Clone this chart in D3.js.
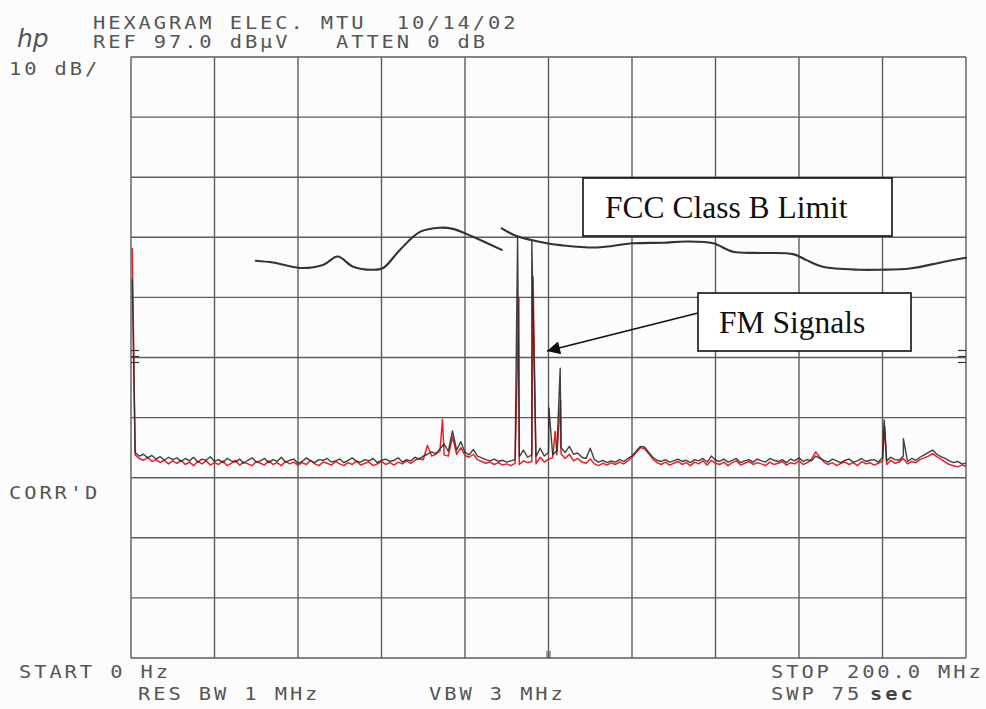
<!DOCTYPE html>
<html><head><meta charset="utf-8">
<script src="https://cdn.jsdelivr.net/npm/d3@7"></script>
<style>html,body{margin:0;padding:0;background:#fcfcfc;} svg{display:block;}</style>
</head><body><svg id="c" width="986" height="709"></svg>
<script>
// ---- analyzer settings ----
const refLevelDbuV = 97.0;
const dbPerDiv = 10;
const startMHz = 0, stopMHz = 200;
const xDivisions = d3.range(0, 201, 20);      // 20 MHz / div
const yDivisions = d3.range(-3, 98, 10);      // 10 dB / div from REF

// ---- trace data (dBµV), one value per MHz starting at 1 MHz ----
const noiseStartMHz = 1;
const blackNoise = [
 31.2,30.6,30.9,30.3,30.7,30.1,30.5,29.9,30.4,30.0,
 30.3,29.7,30.2,29.8,30.4,29.6,30.1,29.9,30.5,29.7,
 30.0,29.5,30.2,29.8,29.6,30.1,29.4,29.9,30.3,29.6,
 29.8,30.2,29.5,30.0,29.7,30.4,29.6,29.9,30.1,29.4,
 29.7,30.3,29.8,29.5,30.0,29.9,30.2,29.6,29.8,30.1,
 29.5,29.9,30.3,29.7,29.6,30.0,29.8,30.2,29.5,29.9,
 30.1,29.7,29.9,30.3,29.6,30.0,29.8,30.4,30.1,30.6,
 30.9,31.3,31.0,31.8,32.6,31.4,34.8,31.6,33.0,31.2,
 30.8,31.7,30.6,30.3,30.0,29.8,30.1,29.7,29.9,29.6,
 29.8,30.0,30.5,31.6,30.4,30.8,30.5,31.9,30.6,31.2,
 30.8,31.5,32.0,31.2,32.2,30.9,31.1,30.4,30.2,31.9,
 30.0,29.6,29.9,29.5,29.8,29.6,30.0,29.7,30.2,30.6,
 31.4,32.2,32.1,31.2,30.4,29.9,29.7,30.0,29.6,29.8,
 30.1,29.7,29.9,29.5,30.0,29.8,30.2,29.6,30.6,29.9,
 29.7,30.1,29.6,29.9,30.2,29.5,29.8,30.0,29.6,30.1,
 29.8,29.6,30.2,29.9,29.7,30.0,29.5,30.1,29.8,30.3,
 29.7,30.0,29.8,30.6,30.2,29.9,29.6,30.1,29.8,29.5,
 29.9,30.1,29.6,29.8,30.2,29.7,29.9,30.0,29.6,30.3,
 29.8,30.4,30.0,29.9,30.6,29.7,30.2,29.9,30.4,30.8,
 31.2,31.6,30.9,30.5,30.2,29.8,29.5,29.7,29.3,29.4
];
const redNoise = [
 30.8,30.2,29.9,30.4,29.7,30.0,29.5,29.9,29.3,29.8,
 29.4,29.9,29.2,29.6,29.0,29.7,29.3,29.8,29.1,29.5,
 29.2,29.8,29.0,29.4,29.9,29.1,29.6,29.3,29.0,29.7,
 29.4,29.1,29.8,29.2,29.5,29.0,29.7,29.3,29.6,29.1,
 29.5,29.2,29.9,29.3,29.0,29.6,29.4,29.1,29.7,29.3,
 29.0,29.5,29.2,29.8,29.1,29.4,29.6,29.0,29.3,29.7,
 29.2,29.5,29.1,29.6,29.3,29.8,29.4,29.9,30.2,30.0,
 32.4,30.6,30.9,31.4,30.8,30.6,33.8,30.9,32.0,30.7,
 30.4,30.9,30.0,29.7,29.4,29.6,29.2,29.5,29.1,29.3,
 29.0,29.4,29.2,29.8,29.5,29.7,29.3,30.4,29.6,30.1,
 30.3,30.8,31.0,30.2,30.9,29.8,30.2,29.6,29.4,30.1,
 29.3,29.0,29.4,29.1,29.5,29.2,29.6,29.3,29.8,30.4,
 31.2,32.0,31.8,31.0,30.1,29.5,29.2,29.6,29.1,29.4,
 29.7,29.2,29.5,29.0,29.6,29.3,29.8,29.1,29.9,29.4,
 29.2,29.6,29.0,29.5,29.8,29.1,29.4,29.7,29.2,29.5,
 29.3,29.0,29.6,29.2,29.4,29.7,29.1,29.5,29.3,29.8,
 29.2,29.5,30.1,31.3,30.4,29.6,29.2,29.5,29.0,29.4,
 29.6,29.2,29.5,29.0,29.7,29.3,29.5,29.1,29.4,29.8,
 29.2,29.9,29.4,29.6,30.2,29.3,29.7,29.5,30.0,30.3,
 30.6,31.0,30.5,30.1,29.6,29.2,29.0,28.8,29.1,28.9
];
// narrow spikes [MHz, dBµV]
const blackPeaks = [[0.3,60.0],[92.6,67.1],[96.0,66.3],[100.1,38.6],[102.8,45.2],[180.4,36.6],[185.0,33.5]];
const redPeaks   = [[0.3,65.2],[74.6,36.7],[92.9,57.0],[96.3,60.4],[101.6,34.7],[102.9,39.9],[180.5,35.5]];

// ---- FCC Class B limit (hand-drawn) [MHz, dBµV] ----
const limitSeg1 = [[29.9,63.1],[34.0,62.8],[40.5,61.9],[46.0,62.4],[49.5,63.8],[53.2,62.1],[57.7,61.6],[60.4,61.9],
  [64.4,64.9],[69.2,67.9],[74.0,68.6],[77.1,68.4],[81.9,67.1],[88.8,64.9]];
const limitSeg2 = [[88.8,68.5],[92.4,67.2],[99.6,66.0],[102.8,65.7],[111.5,65.3],[120.2,66.0],[127.4,66.1],[133.1,66.3],
  [139.4,66.0],[144.2,64.6],[150.7,64.4],[158.6,64.2],[161.8,63.2],[165.7,62.1],[174.6,61.6],[179.4,61.6],
  [186.6,61.8],[194.5,62.9],[200.0,63.6]];

// ---- annotation text ----
const headerLine1 = "HEXAGRAM ELEC. MTU  10/14/02";
const headerLine2 = "REF 97.0 dBµV   ATTEN 0 dB";
const scaleLabel = "10 dB/";
const corrLabel = "CORR'D";
const footerTexts = ["START 0 Hz", "RES BW 1 MHz", "VBW 3 MHz", "STOP 200.0 MHz", "SWP 75", "sec"];
const limitLabel = "FCC Class B Limit";
const fmLabel = "FM Signals";

// ---- drawing ----
const svg = d3.select("#c");
const W = 986, H = 709;
const x = d3.scaleLinear().domain([startMHz, stopMHz]).range([131, 966]);
const y = d3.scaleLinear().domain([refLevelDbuV - 10*dbPerDiv, refLevelDbuV]).range([658, 57]);

svg.append("rect").attr("width", W).attr("height", H).attr("fill", "#fcfcfc");

const gridColor = "#5c5c5c";
const grid = svg.append("g");
grid.selectAll("line.v").data(xDivisions).join("line")
  .attr("x1", d => x(d)).attr("x2", d => x(d)).attr("y1", y.range()[1]).attr("y2", y.range()[0])
  .attr("stroke", gridColor).attr("stroke-width", 1.4);
grid.selectAll("line.h").data(yDivisions).join("line")
  .attr("y1", d => y(d)).attr("y2", d => y(d)).attr("x1", x.range()[0]).attr("x2", x.range()[1])
  .attr("stroke", gridColor).attr("stroke-width", 1.4);

// reference tick marks on left/right edges and bottom centre
const edgeMarks = [-1, 0, 1];
const midY = y(refLevelDbuV - 5*dbPerDiv);
edgeMarks.forEach(k => {
  const yy = midY + k*6 - 1;
  grid.append("line").attr("x1", x(0)).attr("x2", x(0)+8).attr("y1", yy).attr("y2", yy).attr("stroke", "#333").attr("stroke-width", 1.2);
  grid.append("line").attr("x1", x(200)-8).attr("x2", x(200)).attr("y1", yy).attr("y2", yy).attr("stroke", "#333").attr("stroke-width", 1.2);
});
[-1.5, 1.5].forEach(dx => {
  grid.append("line").attr("x1", x(100)+dx).attr("x2", x(100)+dx).attr("y1", y.range()[0]-7).attr("y2", y.range()[0])
    .attr("stroke", "#444").attr("stroke-width", 1);
});

// limit line
const limitLine = d3.line().x(d => x(d[0])).y(d => y(d[1])).curve(d3.curveCatmullRom.alpha(0.5));
[limitSeg1, limitSeg2].forEach(seg => {
  svg.append("path").attr("d", limitLine(seg)).attr("fill", "none")
    .attr("stroke", "#333").attr("stroke-width", 2.1).attr("stroke-linecap", "round");
});

// traces
function buildTrace(noise, peaks) {
  const pts = noise.map((v, i) => [noiseStartMHz + i, v]).concat(peaks);
  return pts.sort((a, b) => a[0] - b[0]);
}
const traceLine = d3.line().x(d => x(d[0])).y(d => y(d[1]));
svg.append("path").attr("d", traceLine(buildTrace(redNoise, redPeaks)))
  .attr("fill", "none").attr("stroke", "#e32228").attr("stroke-width", 1.5).attr("stroke-linejoin", "round");
svg.append("path").attr("d", traceLine(buildTrace(blackNoise, blackPeaks)))
  .attr("fill", "none").attr("stroke", "#2b2b2b").attr("stroke-width", 1.4).attr("stroke-linejoin", "round").attr("opacity", 0.9);

// annotation boxes
function box(x0, y0, x1, y1, label, tx, ty) {
  svg.append("rect").attr("x", x0).attr("y", y0).attr("width", x1 - x0).attr("height", y1 - y0)
    .attr("fill", "#ffffff").attr("stroke", "#111").attr("stroke-width", 1.6);
  svg.append("text").attr("x", tx).attr("y", ty).text(label)
    .attr("font-family", "'Liberation Serif', 'Times New Roman', serif").attr("font-size", 31.5).attr("fill", "#111");
}
box(583, 178, 892, 236, limitLabel, 605, 218);
box(698, 293, 911, 351, fmLabel, 719, 333);

// arrow
const defs = svg.append("defs");
defs.append("marker").attr("id", "ah").attr("viewBox", "0 0 10 10").attr("refX", 10).attr("refY", 5)
  .attr("markerWidth", 20).attr("markerHeight", 13).attr("markerUnits", "userSpaceOnUse")
  .attr("orient", "auto").append("path").attr("d", "M0,0 L10,5 L0,10 z").attr("fill", "#111");
svg.append("line").attr("x1", 698).attr("y1", 313).attr("x2", 547).attr("y2", 351)
  .attr("stroke", "#111").attr("stroke-width", 1.8).attr("marker-end", "url(#ah)");

// plotter text
const pitch = 15.2, fs = 17, sx = 1.2;
function ptext(str, px, py, extra) {
  const t = svg.append("text")
    .attr("transform", `translate(${px},${py}) scale(${sx},1)`)
    .attr("font-family", "'DejaVu Sans Mono', monospace").attr("font-size", fs)
    .attr("letter-spacing", (pitch / sx - 0.602 * fs).toFixed(2))
    .attr("fill", "#555").style("white-space", "pre").text(str);
  if (extra) extra(t);
  return t;
}
ptext(headerLine1, 93, 29);
ptext(headerLine2, 93, 48);
ptext(scaleLabel, 9, 75);
ptext(corrLabel, 9, 499);
ptext(footerTexts[0], 19, 678);
ptext(footerTexts[1], 138, 700);
ptext(footerTexts[2], 429, 700);
ptext(footerTexts[3], 771, 678);
ptext(footerTexts[4], 771, 700);
ptext(footerTexts[5], 870, 700, t => t.attr("fill", "#444").attr("font-weight", "bold"));

// hp logo
svg.append("text").attr("x", 17).attr("y", 47).text("hp")
  .attr("font-family", "'DejaVu Sans', sans-serif").attr("font-style", "italic").attr("font-size", 25)
  .attr("fill", "#555").attr("font-weight", 300);
</script></body></html>
